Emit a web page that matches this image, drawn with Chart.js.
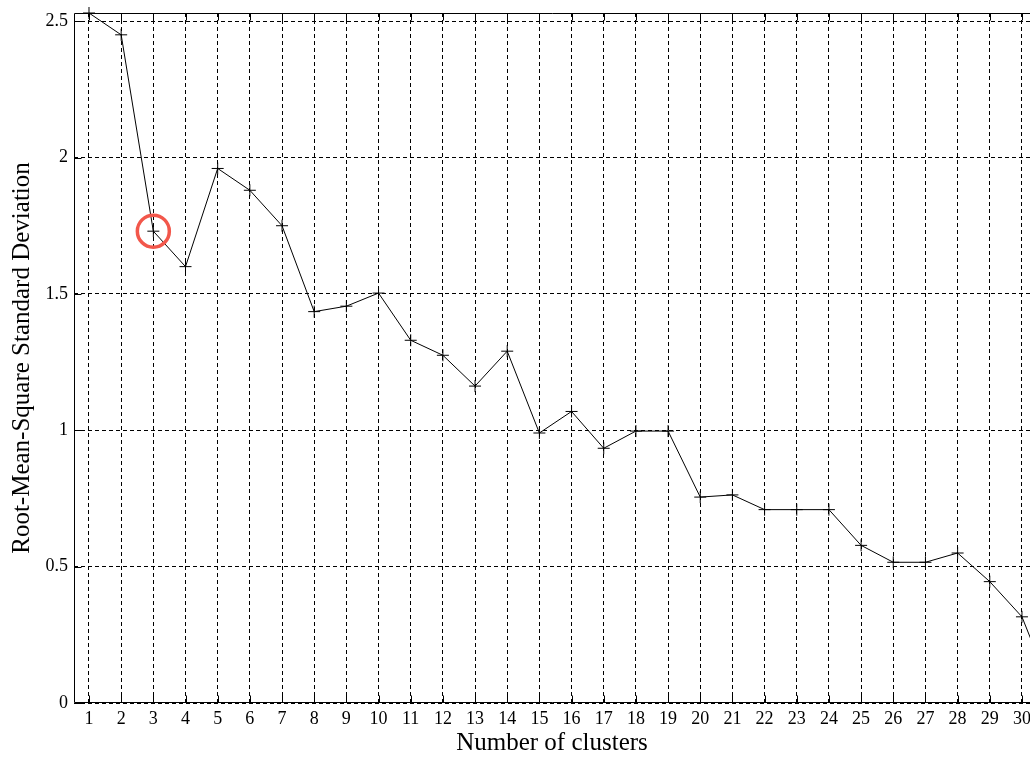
<!DOCTYPE html>
<html>
<head>
<meta charset="utf-8">
<script src="https://cdn.jsdelivr.net/npm/chart.js@4.4.0/dist/chart.umd.min.js"></script>
<style>
  html, body { margin: 0; padding: 0; background: #fff; overflow: hidden; }
</style>
</head>
<body>
<canvas id="rmsChart" width="1030" height="758"></canvas>
<script>
// number of clusters vs RMSSTD
const clusters = [1, 2, 3, 4, 5, 6, 7, 8, 9, 10, 11, 12, 13, 14, 15, 16, 17, 18, 19, 20,
  21, 22, 23, 24, 25, 26, 27, 28, 29, 30, 31];
const rmsstd = [2.53, 2.45, 1.73, 1.60, 1.96, 1.88, 1.75, 1.435, 1.455, 1.503, 1.33, 1.275,
  1.162, 1.29, 0.99, 1.069, 0.934, 0.997, 0.997, 0.755, 0.763, 0.709, 0.709, 0.709, 0.578,
  0.516, 0.516, 0.55, 0.445, 0.316, 0.02];
const xTicks = [1, 2, 3, 4, 5, 6, 7, 8, 9, 10, 11, 12, 13, 14, 15, 16, 17, 18, 19, 20,
  21, 22, 23, 24, 25, 26, 27, 28, 29, 30];
const yTicks = [0, 0.5, 1, 1.5, 2, 2.5];
const markedIndex = 2; // the circled point (3 clusters)

const serif = "'Liberation Serif', 'Times New Roman', serif";

// box on top/left/bottom plus short inward tick marks
const framePlugin = {
  id: "frame",
  beforeDatasetsDraw(chart) {
    const { ctx, chartArea: a, scales } = chart;
    ctx.save();
    ctx.strokeStyle = "#000";
    ctx.lineWidth = 1;
    ctx.setLineDash([]);
    const L = Math.round(a.left) + 0.5, T = Math.round(a.top) + 0.5, B = Math.round(a.bottom) - 0.5;
    ctx.beginPath();
    ctx.moveTo(a.right + 2, T); ctx.lineTo(L, T); ctx.lineTo(L, B); ctx.lineTo(a.right + 2, B);
    ctx.stroke();
    ctx.beginPath();
    scales.x.ticks.forEach(t => {
      const x = Math.round(scales.x.getPixelForValue(t.value)) + 0.5;
      ctx.moveTo(x, B); ctx.lineTo(x, B - 7);
      ctx.moveTo(x, T); ctx.lineTo(x, T + 7);
    });
    scales.y.ticks.forEach(t => {
      const y = Math.round(scales.y.getPixelForValue(t.value)) + 0.5;
      ctx.moveTo(L, y); ctx.lineTo(L + 7, y);
    });
    ctx.stroke();
    ctx.restore();
  },
  afterDatasetsDraw(chart) {
    const { ctx, scales } = chart;
    const x = scales.x.getPixelForValue(clusters[markedIndex]);
    const y = scales.y.getPixelForValue(rmsstd[markedIndex]);
    ctx.save();
    ctx.strokeStyle = "#f2574b";
    ctx.lineWidth = 3.5;
    ctx.beginPath();
    ctx.arc(x, y, 16, 0, Math.PI * 2);
    ctx.stroke();
    ctx.restore();
  }
};

new Chart(document.getElementById("rmsChart"), {
  type: "line",
  data: {
    datasets: [{
      data: clusters.map((c, i) => ({ x: c, y: rmsstd[i] })),
      borderColor: "#000",
      borderWidth: 1,
      tension: 0,
      clip: false,
      pointStyle: "cross",
      pointRadius: 6,
      pointBorderColor: "#000",
      pointBorderWidth: 1,
      pointBackgroundColor: "#000"
    }]
  },
  options: {
    responsive: false,
    animation: false,
    devicePixelRatio: 1,
    layout: { autoPadding: false, padding: { top: 13, left: 0, right: 0, bottom: 0 } },
    plugins: { legend: { display: false }, tooltip: { enabled: false } },
    scales: {
      x: {
        type: "linear",
        min: 0.534,
        max: 30.25,
        afterBuildTicks: s => { s.ticks = xTicks.map(v => ({ value: v })); },
        afterFit: s => { s.height = 55; s.paddingLeft = 0; s.paddingRight = 0; },
        grid: { color: "#000", lineWidth: 1, drawTicks: false },
        border: { display: false, dash: [4, 3] },
        ticks: { color: "#000", padding: 5, maxRotation: 0, autoSkip: false,
          font: { family: serif, size: 18 } },
        title: { display: true, text: "Number of clusters", color: "#000",
          padding: { top: 0, bottom: 0 }, font: { family: serif, size: 25 } }
      },
      y: {
        min: 0,
        max: 2.53,
        afterBuildTicks: s => { s.ticks = yTicks.map(v => ({ value: v })); },
        afterFit: s => { s.width = 74; s.paddingTop = 0; s.paddingBottom = 0; },
        grid: { color: "#000", lineWidth: 1, drawTicks: false },
        border: { display: false, dash: [4, 3] },
        ticks: { color: "#000", padding: 6, font: { family: serif, size: 18 },
          callback: v => String(v) },
        title: { display: true, text: "Root-Mean-Square Standard Deviation", color: "#000",
          padding: { top: 7, bottom: 0 }, font: { family: serif, size: 25 } }
      }
    }
  },
  plugins: [framePlugin]
});
</script>
</body>
</html>
